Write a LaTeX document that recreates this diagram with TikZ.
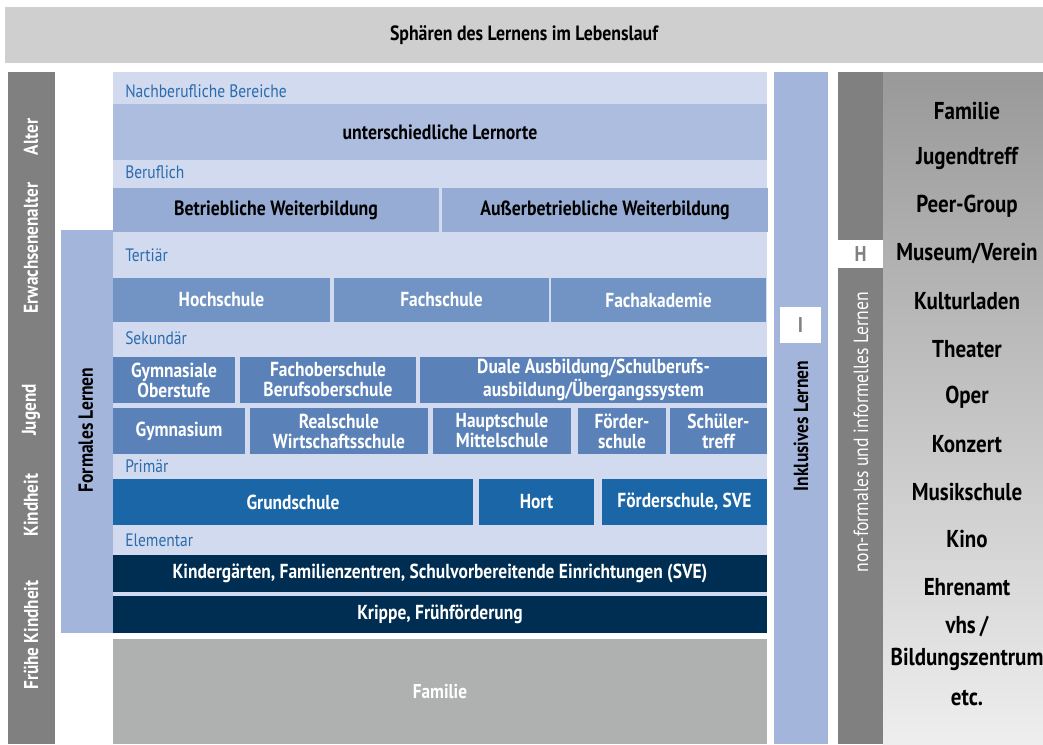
\documentclass[tikz,border=0pt]{standalone}
\usepackage{fontspec}
\setmainfont{PT Sans}[FakeStretch=0.86]
\usetikzlibrary{calc}
\definecolor{titlegray}{HTML}{CFCFCF}
\definecolor{agegray}{HTML}{808080}
\definecolor{formblue}{HTML}{A3B5DB}
\definecolor{mainbg}{HTML}{D1DAEE}
\definecolor{lernort}{HTML}{ADBDE0}
\definecolor{beruf}{HTML}{97ACD5}
\definecolor{tert}{HTML}{7194C4}
\definecolor{sek}{HTML}{5A82B8}
\definecolor{prim}{HTML}{1B66A6}
\definecolor{elem}{HTML}{002E52}
\definecolor{famgray}{HTML}{AFB0B0}
\definecolor{lbltext}{HTML}{2A6BAE}
\definecolor{gradtop}{HTML}{999999}
\definecolor{gradbot}{HTML}{EEEEEE}
\newcommand\rb[7]{\node[#6, minimum width={(#4-#2)*0.75pt}, minimum height={(#5-#3)*0.75pt}] (#1) at ({(#2+#4)/2},{(#3+#5)/2}) {#7};}
\tikzset{
  base/.style={inner sep=0pt, outer sep=0pt, draw=none, align=center},
  boxblack/.style={base, text=black, font=\fontsize{15.5}{15}\selectfont\bfseries},
  boxwhite/.style={base, text=white, font=\fontsize{15.2}{15}\selectfont\bfseries},
  lbl/.style={inner sep=0pt, anchor=west, text=lbltext, font=\fontsize{13.5}{14}\selectfont},
  agetext/.style={inner sep=0pt, rotate=90, text=white, font=\fontsize{15}{15}\selectfont\bfseries},
  sidetext/.style={inner sep=0pt, rotate=90, text=black, font=\fontsize{15.3}{15}\selectfont\bfseries},
  rtext/.style={inner sep=0pt, text=black, font=\fontsize{18.3}{18}\selectfont\bfseries},
  letterbox/.style={base, fill=white, text=agegray, font=\fontsize{16}{16}\selectfont\bfseries},
}
\begin{document}
\begin{tikzpicture}[x=0.75pt,y=-0.75pt]
\useasboundingbox (0,0) rectangle (1043,744);
% title
\rb{title}{5}{7}{1043}{63}{base, fill=titlegray, text=black, font=\fontsize{15.5}{15}\selectfont\bfseries}{Sphären des Lernens im Lebenslauf}
% age column
\fill[agegray] (8,72) rectangle (55,744);
\node[agetext] (alter) at (31,137) {Alter};
\node[agetext] (erw) at (31,248) {Erwachsenenalter};
\node[agetext] (jug) at (31,410) {Jugend};
\node[agetext] (kind) at (31,505) {Kindheit};
\node[agetext] (fk) at (31,635) {Frühe Kindheit};
% formales lernen
\fill[formblue] (61,230) rectangle (113,633);
\node[sidetext] (formal) at (86,430) {Formales Lernen};
% main background
\fill[mainbg] (113,72) rectangle (767,633);
\node[lbl] (l1) at (125,91) {Nachberufliche Bereiche};
\rb{lernorte}{113}{104}{767}{160}{boxblack, fill=lernort}{unterschiedliche Lernorte}
\node[lbl] (l2) at (125,172) {Beruflich};
\rb{betr}{113}{188}{439}{232}{boxblack, fill=beruf}{Betriebliche Weiterbildung}
\rb{aussb}{442}{188}{768}{232}{boxblack, fill=beruf}{Außerbetriebliche Weiterbildung}
\node[lbl] (l3) at (125,255) {Tertiär};
\rb{hoch}{113}{278}{330}{322}{boxwhite, fill=tert}{Hochschule}
\rb{fachs}{334}{278}{549}{322}{boxwhite, fill=tert}{Fachschule}
\rb{fakad}{551}{278}{766}{322}{boxwhite, fill=tert}{Fachakademie}
\node[lbl] (l4) at (125,338) {Sekundär};
\rb{gymo}{113}{357}{235}{403}{boxwhite, fill=sek}{Gymnasiale\\Oberstufe}
\rb{fos}{240}{357}{416}{403}{boxwhite, fill=sek}{Fachoberschule\\Berufsoberschule}
\rb{dual}{420}{357}{767}{403}{boxwhite, fill=sek}{Duale Ausbildung/Schulberufs-\\ausbildung/Übergangssystem}
\rb{gym}{113}{408}{245}{454}{boxwhite, fill=sek}{Gymnasium}
\rb{real}{250}{408}{428}{454}{boxwhite, fill=sek}{Realschule\\Wirtschaftsschule}
\rb{haupt}{433}{408}{571}{454}{boxwhite, fill=sek}{Hauptschule\\Mittelschule}
\rb{foerd}{578}{408}{666}{454}{boxwhite, fill=sek}{Förder-\\schule}
\rb{schuel}{670}{408}{767}{454}{boxwhite, fill=sek}{Schüler-\\treff}
\node[lbl] (l5) at (125,466) {Primär};
\rb{grund}{113}{479}{473}{525}{boxwhite, fill=prim}{Grundschule}
\rb{hort}{479}{479}{594}{525}{boxwhite, fill=prim}{Hort}
\rb{fsve}{602}{479}{767}{525}{boxwhite, fill=prim}{Förderschule, SVE}
\node[lbl] (l6) at (125,540) {Elementar};
\rb{kiga}{113}{555}{767}{592}{boxwhite, fill=elem}{Kindergärten, Familienzentren, Schulvorbereitende Einrichtungen (SVE)}
\rb{krippe}{113}{596}{767}{633}{boxwhite, fill=elem}{Krippe, Frühförderung}
\rb{fam}{113}{639}{767}{744}{base, fill=famgray, text=white, font=\fontsize{15}{15}\selectfont\bfseries}{Familie}
% inklusives lernen
\fill[formblue] (774,72) rectangle (828,744);
\node[sidetext] (inkl) at (801,426) {Inklusives Lernen};
\rb{ibox}{780}{307}{821}{343}{letterbox}{I}
% non-formal column
\fill[agegray] (838,72) rectangle (883,744);
\node[agetext, font=\fontsize{15.4}{15}\selectfont] (nonf) at (861,432) {non-formales und informelles Lernen};
\rb{hbox}{838}{240}{883}{268}{letterbox}{H}
\shade[top color=gradtop, bottom color=gradbot] (883,72) rectangle (1043,744);
\node[rtext] (r1) at (967,111) {Familie};
\node[rtext] (r2) at (967,158) {Jugendtreff};
\node[rtext] (r3) at (967,206) {Peer-Group};
\node[rtext] (r4) at (967,254) {Museum/Verein};
\node[rtext] (r5) at (967,301) {Kulturladen};
\node[rtext] (r6) at (967,349) {Theater};
\node[rtext] (r7) at (967,397) {Oper};
\node[rtext] (r8) at (967,444) {Konzert};
\node[rtext] (r9) at (967,492) {Musikschule};
\node[rtext] (r10) at (967,539) {Kino};
\node[rtext] (r11) at (967,587) {Ehrenamt};
\node[rtext] (r12) at (967,627) {vhs\,/};
\node[rtext] (r13) at (967,659) {Bildungszentrum};
\node[rtext] (r14) at (967,698) {etc.};
\end{tikzpicture}
\end{document}
